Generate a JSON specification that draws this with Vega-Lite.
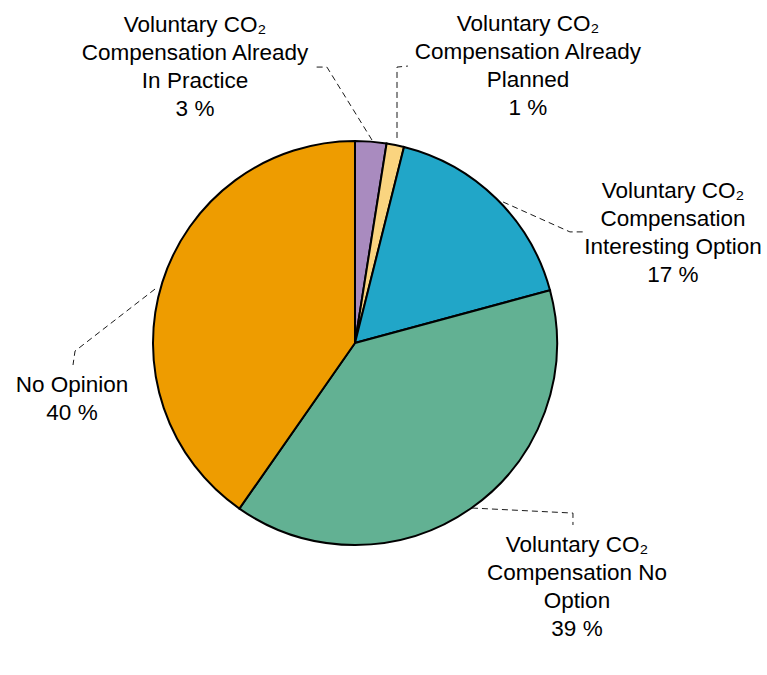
{
  "$schema": "https://vega.github.io/schema/vega-lite/v6.json",
  "width": 767,
  "height": 675,
  "autosize": "none",
  "padding": 0,
  "config": {"view": {"stroke": null}},
  "datasets": {
    "pie": [
      {"category": "Voluntary CO2 Compensation Already In Practice", "idx": 1, "value": 2.5},
      {"category": "Voluntary CO2 Compensation Already Planned", "idx": 2, "value": 1.4},
      {"category": "Voluntary CO2 Compensation Interesting Option", "idx": 3, "value": 16.9},
      {"category": "Voluntary CO2 Compensation No Option", "idx": 4, "value": 38.9},
      {"category": "No Opinion", "idx": 5, "value": 40.3}
    ],
    "leaders": [
      {"slice": "practice", "i": 1, "x": 0.084, "y": 1.005},
      {"slice": "practice", "i": 2, "x": -0.139, "y": 1.366},
      {"slice": "practice", "i": 3, "x": -0.198, "y": 1.366},
      {"slice": "planned", "i": 1, "x": 0.208, "y": 1.015},
      {"slice": "planned", "i": 2, "x": 0.208, "y": 1.366},
      {"slice": "planned", "i": 3, "x": 0.262, "y": 1.371},
      {"slice": "interesting", "i": 1, "x": 0.733, "y": 0.698},
      {"slice": "interesting", "i": 2, "x": 1.064, "y": 0.55},
      {"slice": "interesting", "i": 3, "x": 1.129, "y": 0.55},
      {"slice": "noopinion", "i": 1, "x": -0.99, "y": 0.267},
      {"slice": "noopinion", "i": 2, "x": -1.386, "y": -0.04},
      {"slice": "noopinion", "i": 3, "x": -1.396, "y": -0.109},
      {"slice": "nooption", "i": 1, "x": 0.579, "y": -0.817},
      {"slice": "nooption", "i": 2, "x": 1.079, "y": -0.842},
      {"slice": "nooption", "i": 3, "x": 1.079, "y": -0.901}
    ],
    "labels": [
      {"x": -0.792, "y": 1.54, "label": "Voluntary CO₂\nCompensation Already\nIn Practice\n3 %"},
      {"x": 0.856, "y": 1.545, "label": "Voluntary CO₂\nCompensation Already\nPlanned\n1 %"},
      {"x": 1.574, "y": 0.718, "label": "Voluntary CO₂\nCompensation\nInteresting Option\n17 %"},
      {"x": -1.401, "y": -0.243, "label": "No Opinion\n40 %"},
      {"x": 1.099, "y": -1.035, "label": "Voluntary CO₂\nCompensation No\nOption\n39 %"}
    ]
  },
  "layer": [
    {
      "data": {"name": "leaders"},
      "mark": {"type": "line", "strokeDash": [6, 4], "strokeWidth": 1, "color": "#1a1a1a"},
      "encoding": {
        "x": {"field": "x", "type": "quantitative", "scale": {"domain": [-1.7574, 2.0396], "nice": false, "zero": false}, "axis": null},
        "y": {"field": "y", "type": "quantitative", "scale": {"domain": [-1.6436, 1.698], "nice": false, "zero": false}, "axis": null},
        "detail": {"field": "slice"},
        "order": {"field": "i"}
      }
    },
    {
      "data": {"name": "pie"},
      "mark": {"type": "arc", "radius": 202, "stroke": "#000000", "strokeWidth": 2},
      "encoding": {
        "theta": {"field": "value", "type": "quantitative", "stack": true},
        "order": {"field": "idx"},
        "color": {
          "field": "category",
          "type": "nominal",
          "scale": {
            "domain": ["Voluntary CO2 Compensation Already In Practice", "Voluntary CO2 Compensation Already Planned", "Voluntary CO2 Compensation Interesting Option", "Voluntary CO2 Compensation No Option", "No Opinion"],
            "range": ["#A98BBF", "#FAD47F", "#21A6C8", "#62B193", "#EE9C00"]
          },
          "legend": null
        },
        "x": {"datum": 0, "type": "quantitative"},
        "y": {"datum": 0, "type": "quantitative"}
      }
    },
    {
      "data": {"name": "labels"},
      "mark": {"type": "text", "lineBreak": "\n", "font": "Liberation Sans", "fontSize": 22.5, "lineHeight": 28, "align": "center", "baseline": "alphabetic", "color": "#000000"},
      "encoding": {
        "x": {"field": "x", "type": "quantitative"},
        "y": {"field": "y", "type": "quantitative"},
        "text": {"field": "label"}
      }
    }
  ]
}
